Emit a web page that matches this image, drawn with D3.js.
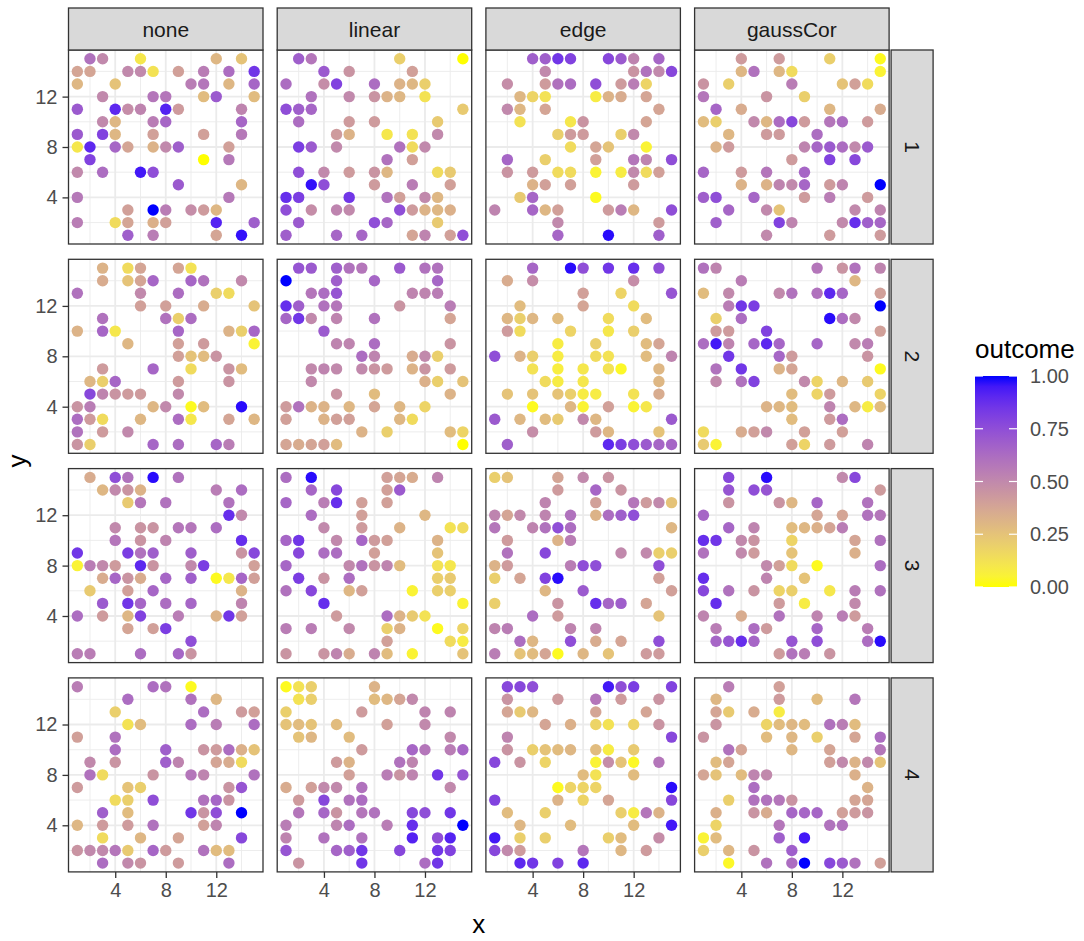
<!DOCTYPE html>
<html>
<head>
<meta charset="utf-8">
<script src="https://cdn.jsdelivr.net/npm/d3@7"></script>
<style>
  body { margin: 0; background: #fff; }
  text { font-family: "Liberation Sans", Arial, Helvetica, sans-serif; }
</style>
</head>
<body>
<svg id="chart" width="1084" height="941"></svg>
<script>
'use strict';

// facet categories
var methods = ['none', 'linear', 'edge', 'gaussCor'];
var reps = ['1', '2', '3', '4'];
var xTicks = [4, 8, 12];
var yTicks = [4, 8, 12];
var legendTicks = [0, 0.25, 0.5, 0.75, 1];

// points per panel: [x, y, outcome]
var none1 = [[2,15,.6],[3,15,.5],[6,15,.1],[12,15,.3],[14,15,.25],
  [1,14,.38],[2,14,.38],[5,14,.5],[6,14,.5],[7,14,.12],[9,14,.4],[11,14,.55],[13,14,.62],[15,14,.85],
  [1,13,.3],[4,13,.25],[10,13,.55],[11,13,.58],[13,13,.3],[15,13,.65],
  [3,12,.5],[7,12,.58],[8,12,.58],[11,12,.28],[12,12,.7],[15,12,.28],
  [1,11,.7],[4,11,.9],[5,11,.48],[6,11,.52],[8,11,.92],[9,11,.42],[14,11,.52],
  [3,10,.5],[4,10,.3],[7,10,.55],[8,10,.65],[14,10,.65],
  [1,9,.7],[3,9,.8],[4,9,.3],[7,9,.4],[11,9,.4],[14,9,.57],
  [1,8,.1],[2,8,.9],[4,8,.65],[5,8,.38],[7,8,.32],[8,8,.5],[9,8,.68],[13,8,.4],
  [2,7,.8],[11,7,0],[13,7,.57],
  [1,6,.5],[3,6,.62],[6,6,.95],[7,6,.75],
  [9,5,.7],[14,5,.3],
  [1,4,.57],[13,4,.57],
  [5,3,.4],[7,3,1],[8,3,.55],[10,3,.48],[11,3,.42],[12,3,.3],
  [1,2,.55],[4,2,.15],[5,2,.38],[7,2,.33],[8,2,.4],[12,2,.92],[15,2,.68],
  [5,1,.68],[7,1,.55],[12,1,.38],[14,1,.97]];

var linear1 = [[2,15,.68],[3,15,.58],[10,15,.2],[15,15,0],
  [4,14,.7],[6,14,.45],[11,14,.4],
  [1,13,.62],[4,13,.48],[5,13,.8],[8,13,.62],[10,13,.32],[11,13,.3],[12,13,.2],
  [3,12,.6],[6,12,.5],[8,12,.45],[9,12,.32],[10,12,.3],[12,12,.12],
  [1,11,.75],[2,11,.68],[3,11,.65],[15,11,.22],
  [2,10,.62],[6,10,.42],[8,10,.42],[13,10,.22],
  [5,9,.42],[6,9,.32],[9,9,.1],[11,9,.12],[13,9,.5],
  [2,8,.82],[3,8,.7],[5,8,.5],[10,8,.6],[11,8,.15],[12,8,.5],
  [9,7,.6],[11,7,.4],
  [2,6,.75],[4,6,.5],[6,6,.42],[8,6,.45],[9,6,.3],[13,6,.15],[14,6,.22],
  [3,5,.97],[4,5,.75],[8,5,.42],[11,5,.55],[14,5,.4],
  [1,4,.88],[2,4,.82],[6,4,.85],[9,4,.6],[10,4,.4],[12,4,.5],[13,4,.3],
  [1,3,.75],[3,3,.48],[5,3,.52],[6,3,.5],[10,3,.75],[11,3,.42],[12,3,.32],[13,3,.3],[14,3,.33],
  [2,2,.7],[8,2,.75],[9,2,.65],[13,2,.22],
  [1,1,.68],[5,1,.65],[7,1,.65],[11,1,.38],[12,1,.52],[14,1,.4],[15,1,.75]];

var edge1 = [[4,15,.68],[5,15,.68],[6,15,.85],[7,15,.8],[10,15,.78],[11,15,.7],[12,15,.52],[14,15,.65],
  [5,14,.5],[12,14,.45],[13,14,.6],[14,14,.5],[15,14,.78],
  [2,13,.48],[5,13,.42],[6,13,.6],[7,13,.62],[9,13,.75],[11,13,.42],[12,13,.55],[13,13,.18],
  [3,12,.3],[4,12,.18],[5,12,.12],[9,12,.08],[10,12,.32],[11,12,.35],[13,12,.38],
  [2,11,.5],[3,11,.3],[5,11,.38],[14,11,.38],
  [3,10,.12],[7,10,.1],[8,10,.45],[13,10,.38],
  [6,9,.2],[7,9,.42],[8,9,.42],[11,9,.2],[12,9,.5],
  [7,8,.15],[9,8,.38],[10,8,.25],[13,8,.05],
  [2,7,.65],[5,7,.2],[9,7,.4],[12,7,.58],[13,7,.52],[15,7,.75],
  [2,6,.45],[4,6,.42],[6,6,.15],[7,6,.15],[9,6,.05],[11,6,.08],[12,6,.5],[13,6,.15],[14,6,.4],
  [4,5,.32],[5,5,.4],[7,5,.4],[12,5,.42],
  [3,4,.22],[4,4,.65],[9,4,.02],
  [1,3,.52],[4,3,.65],[5,3,.3],[6,3,.4],[10,3,.42],[11,3,.55],[12,3,.3],[15,3,.75],
  [6,2,.5],[14,2,.42],
  [6,1,.65],[10,1,.98],[14,1,.68]];

var gaussCor1 = [[4,15,.42],[7,15,.42],[11,15,.2],[15,15,.02],
  [4,14,.3],[5,14,.6],[7,14,.3],[8,14,.15],[15,14,.05],
  [1,13,.45],[3,13,.2],[8,13,.55],[12,13,.25],[13,13,.4],[14,13,.15],
  [1,12,.58],[6,12,.45],[9,12,.2],
  [2,11,.65],[4,11,.35],[11,11,.3],[15,11,.35],
  [1,10,.28],[2,10,.2],[5,10,.5],[6,10,.3],[7,10,.62],[8,10,.78],[9,10,.42],[11,10,.58],[12,10,.62],[14,10,.42],
  [3,9,.3],[6,9,.42],[7,9,.42],[10,9,.62],
  [2,8,.32],[3,8,.42],[9,8,.52],[10,8,.65],[11,8,.7],[12,8,.62],[13,8,.5],[14,8,.7],
  [8,7,.42],[11,7,.8],[13,7,.78],
  [1,6,.65],[4,6,.42],[6,6,.58],[9,6,.65],
  [4,5,.32],[6,5,.32],[7,5,.52],[8,5,.5],[9,5,.65],[11,5,.42],[12,5,.52],[15,5,1],
  [1,4,.68],[2,4,.75],[5,4,.65],[9,4,.42],[11,4,.55],[14,4,.42],
  [3,3,.65],[6,3,.5],[7,3,.25],[13,3,.5],[15,3,.52],
  [2,2,.68],[7,2,.8],[8,2,.52],[12,2,.5],[13,2,.88],[14,2,.68],[15,2,.65],
  [6,1,.5],[11,1,.42],[15,1,.42]];

var none2 = [[3,15,.32],[5,15,.15],[6,15,.38],[9,15,.38],[10,15,.12],
  [3,14,.35],[5,14,.25],[6,14,.38],[7,14,.65],[10,14,.65],[11,14,.6],[14,14,.5],
  [1,13,.6],[6,13,.5],[9,13,.62],[12,13,.2],[13,13,.15],
  [6,12,.4],[8,12,.4],[11,12,.35],[15,12,.25],
  [3,11,.6],[8,11,.6],[9,11,.2],[10,11,.62],
  [1,10,.32],[3,10,.65],[4,10,.1],[9,10,.65],[13,10,.32],[14,10,.2],[15,10,.65],
  [5,9,.3],[9,9,.4],[11,9,.42],[15,9,.05],
  [9,8,.4],[10,8,.25],[11,8,.28],[12,8,.45],
  [3,7,.42],[7,7,.65],[10,7,.15],[13,7,.45],[14,7,.28],
  [2,6,.3],[3,6,.2],[4,6,.65],[9,6,.42],[13,6,.45],
  [2,5,.78],[3,5,.52],[4,5,.45],[5,5,.42],[6,5,.42],[9,5,.5],
  [1,4,.45],[2,4,.55],[7,4,.3],[8,4,.5],[10,4,.02],[11,4,.28],[14,4,.98],
  [1,3,.62],[2,3,.42],[3,3,.15],[6,3,.3],[9,3,.62],[10,3,.1],[13,3,.38],[15,3,.3],
  [1,2,.6],[3,2,.42],[5,2,.5],
  [1,1,.45],[2,1,.2],[7,1,.65],[9,1,.62],[12,1,.65],[13,1,.55]];

var linear2 = [[2,15,.72],[3,15,.7],[5,15,.68],[6,15,.6],[7,15,.58],[10,15,.7],[12,15,.6],[13,15,.6],
  [1,14,1],[5,14,.68],[8,14,.65],[13,14,.65],
  [3,13,.58],[4,13,.62],[5,13,.72],[11,13,.52],[12,13,.52],[13,13,.55],
  [1,12,.88],[2,12,.68],[4,12,.6],[5,12,.58],[10,12,.45],[14,12,.55],
  [1,11,.65],[2,11,.85],[3,11,.5],[5,11,.52],[8,11,.6],[14,11,.38],
  [4,10,.7],
  [5,9,.52],[6,9,.52],[8,9,.62],[14,9,.45],
  [7,8,.62],[8,8,.52],[11,8,.35],[12,8,.5],[13,8,.2],
  [3,7,.5],[4,7,.52],[5,7,.5],[7,7,.5],[8,7,.45],[9,7,.42],[11,7,.32],[12,7,.45],[14,7,.42],
  [3,6,.5],[12,6,.33],[13,6,.2],[15,6,.25],
  [5,5,.45],[8,5,.28],[14,5,.32],
  [1,4,.42],[2,4,.6],[3,4,.32],[4,4,.32],[6,4,.3],[8,4,.38],[10,4,.3],[12,4,.18],
  [1,3,.4],[4,3,.32],[5,3,.4],[6,3,.4],[10,3,.3],[11,3,.15],
  [7,2,.32],[9,2,.2],[14,2,.28],[15,2,.18],
  [1,1,.38],[2,1,.35],[3,1,.38],[4,1,.4],[5,1,.28],[15,1,0]];

var edge2 = [[4,15,.65],[7,15,.98],[8,15,.75],[10,15,.85],[12,15,.88],[14,15,.75],
  [2,14,.35],[4,14,.48],[12,14,.48],
  [8,13,.4],[11,13,.18],[15,13,.72],
  [3,12,.28],[8,12,.38],[12,12,.15],
  [2,11,.3],[3,11,.2],[4,11,.3],[6,11,.28],[10,11,.15],[13,11,.28],
  [2,10,.42],[3,10,.15],[7,10,.18],[10,10,.1],[12,10,.2],
  [6,9,.08],[9,9,.2],[13,9,.28],[14,9,.38],
  [1,8,.75],[3,8,.32],[4,8,.2],[6,8,.08],[9,8,.15],[10,8,.12],[13,8,.28],[15,8,.52],
  [4,7,.12],[6,7,.07],[8,7,.1],[10,7,.12],[11,7,.03],[14,7,.3],
  [5,6,.15],[6,6,.08],[8,6,.1],[14,6,.3],
  [2,5,.25],[4,5,.25],[6,5,.25],[7,5,.2],[8,5,.08],[9,5,.08],[12,5,.12],[14,5,.35],
  [4,4,.02],[7,4,.3],[8,4,.05],[10,4,.4],[12,4,.05],[13,4,.1],
  [1,3,.7],[3,3,.3],[5,3,.28],[6,3,.22],[8,3,.5],[9,3,.3],[15,3,.7],
  [4,2,.48],[9,2,.42],[10,2,.3],[14,2,.25],
  [2,1,.68],[10,1,.9],[11,1,.82],[12,1,.75],[13,1,.7],[14,1,.65],[15,1,.65]];

var gaussCor2 = [[1,15,.6],[2,15,.52],[10,15,.58],[12,15,.45],[13,15,.6],[15,15,.52],
  [4,14,.55],[13,14,.3],
  [1,13,.28],[3,13,.5],[7,13,.5],[8,13,.6],[10,13,.6],[11,13,.9],[12,13,.65],[15,13,.4],
  [3,12,.55],[4,12,.85],[5,12,.82],[15,12,1],
  [2,11,.2],[4,11,.62],[11,11,.98],[12,11,.62],[13,11,.5],
  [2,10,.42],[3,10,.42],[6,10,.8],[15,10,.4],
  [1,9,.62],[2,9,.95],[3,9,.52],[5,9,.65],[6,9,.9],[7,9,.65],[10,9,.65],[13,9,.5],[14,9,.55],
  [3,8,.85],[7,8,.65],[8,8,.42],[14,8,.45],
  [2,7,.6],[4,7,.85],[7,7,.32],[8,7,.38],[15,7,.02],
  [2,6,.5],[4,6,.6],[5,6,.8],[9,6,.5],[10,6,.18],[12,6,.3],[14,6,.22],
  [8,5,.28],[10,5,.18],[11,5,.42],[15,5,.18],
  [6,4,.32],[7,4,.3],[8,4,.28],[11,4,.52],[13,4,.3],[14,4,.08],[15,4,.28],
  [8,3,.28],[11,3,.42],[12,3,.62],
  [1,2,.15],[4,2,.35],[5,2,.4],[6,2,.5],[9,2,.4],[12,2,.4],
  [1,1,.22],[2,1,.05],[8,1,.4],[9,1,.18],[11,1,.42],[14,1,.52]];

var none3 = [[2,15,.35],[4,15,.75],[5,15,.6],[7,15,.98],[9,15,.6],
  [3,14,.3],[4,14,.5],[5,14,.45],[6,14,.32],[12,14,.55],[14,14,.62],
  [5,13,.22],[6,13,.58],[8,13,.6],[13,13,.6],
  [13,12,.88],[14,12,.5],
  [4,11,.5],[6,11,.45],[7,11,.45],[9,11,.58],[10,11,.58],[12,11,.62],
  [4,10,.58],[6,10,.45],[8,10,.52],[14,10,.88],
  [1,9,.85],[5,9,.82],[6,9,.6],[7,9,.68],[10,9,.68],[14,9,.45],[15,9,.78],
  [1,8,.05],[2,8,.55],[3,8,.5],[4,8,.42],[6,8,.9],[7,8,.45],[10,8,.5],[11,8,.82],[15,8,.4],
  [3,7,.35],[4,7,.65],[5,7,.45],[6,7,.35],[8,7,.65],[10,7,.68],[12,7,.02],[13,7,.1],[14,7,.65],[15,7,.4],
  [2,6,.22],[5,6,.4],[7,6,.65],[14,6,.32],
  [3,5,.7],[5,5,.85],[6,5,.65],[8,5,.62],[10,5,.65],[14,5,.52],
  [1,4,.62],[3,4,.42],[5,4,.3],[6,4,.8],[9,4,.55],[12,4,.32],[13,4,.85],[14,4,.4],
  [5,3,.38],[7,3,.4],[8,3,.82],
  [10,2,.75],
  [1,1,.55],[2,1,.55],[6,1,.62],[9,1,.65],[10,1,.45]];

var linear3 = [[1,15,.62],[3,15,.98],[9,15,.4],[10,15,.38],[11,15,.35],[13,15,.52],
  [3,14,.65],[5,14,.78],[9,14,.4],[10,14,.7],
  [1,13,.65],[4,13,.55],[5,13,.88],[7,13,.4],[9,13,.4],
  [3,12,.62],[7,12,.4],[12,12,.3],
  [4,11,.5],[7,11,.42],[10,11,.32],[14,11,.12],[15,11,.15],
  [1,10,.65],[2,10,.85],[5,10,.5],[7,10,.65],[8,10,.42],[9,10,.4],[13,10,.32],
  [2,9,.78],[4,9,.62],[5,9,.62],[8,9,.4],[13,9,.25],
  [1,8,.65],[6,8,.5],[7,8,.6],[8,8,.45],[9,8,.52],[10,8,.28],[13,8,.12],[14,8,.1],
  [2,7,.82],[4,7,.45],[6,7,.62],[13,7,.2],[14,7,.22],
  [1,6,.6],[3,6,.78],[6,6,.3],[7,6,.4],[11,6,.05],[13,6,.2],[14,6,.2],
  [4,5,.88],[15,5,.05],
  [5,4,.42],[9,4,.62],[10,4,.32],[11,4,.22],[12,4,.12],
  [1,3,.55],[3,3,.55],[6,3,.5],[9,3,.2],[10,3,.32],[13,3,.02],[15,3,.18],
  [9,2,.4],[14,2,.15],[15,2,.08],
  [1,1,.45],[4,1,.45],[5,1,.52],[6,1,.35],[8,1,.52],[9,1,.28],[11,1,.05],[15,1,.25]];

var edge3 = [[1,15,.2],[2,15,.25],[6,15,.38],[8,15,.5],[10,15,.45],
  [6,14,.42],[9,14,.65],[11,14,.45],
  [5,13,.52],[9,13,.4],[12,13,.58],[13,13,.42],[14,13,.5],[15,13,.25],
  [1,12,.52],[2,12,.38],[3,12,.5],[5,12,.52],[7,12,.6],[9,12,.32],[10,12,.62],[11,12,.68],[12,12,.75],
  [1,11,.58],[4,11,.52],[5,11,.6],[6,11,.75],[7,11,.62],[15,11,.3],
  [2,10,.42],[6,10,.32],[7,10,.55],
  [2,9,.6],[5,9,.78],[11,9,.5],[13,9,.5],[14,9,.2],[15,9,.2],
  [1,8,.32],[2,8,.42],[7,8,.55],[8,8,.75],[9,8,.75],[14,8,.75],
  [1,7,.2],[3,7,.38],[5,7,.8],[6,7,.98],[14,7,.4],
  [5,6,.3],[8,6,.7],[15,6,.4],
  [1,5,.2],[6,5,.45],[9,5,.88],[10,5,.65],[11,5,.68],[13,5,.38],
  [4,4,.62],[6,4,.42],[14,4,.25],
  [1,3,.52],[2,3,.55],[7,3,.52],[9,3,.52],
  [3,2,.62],[4,2,.3],[7,2,.75],[9,2,.35],[11,2,.38],[14,2,.75],
  [1,1,.55],[3,1,.25],[4,1,.28],[5,1,.38],[6,1,.02],[8,1,.3],[10,1,.25],[13,1,.42],[14,1,.42]];

var gaussCor3 = [[3,15,.78],[6,15,.98],[12,15,.5],[13,15,.78],
  [3,14,.72],[5,14,.75],[6,14,.72],[15,14,.42],
  [3,13,.45],[7,13,.45],[8,13,.3],[10,13,.65],[14,13,.6],
  [1,12,.65],[10,12,.38],[12,12,.38],[14,12,.6],[15,12,.58],
  [3,11,.65],[5,11,.52],[8,11,.28],[9,11,.3],[10,11,.33],[11,11,.38],[12,11,.55],
  [1,10,.88],[2,10,.85],[4,10,.5],[5,10,.45],[8,10,.18],[13,10,.38],[15,10,.6],
  [1,9,.6],[4,9,.5],[5,9,.42],[8,9,.25],[13,9,.33],
  [6,8,.5],[7,8,.4],[8,8,.15],[10,8,.02],[15,8,.62],
  [1,7,.88],[6,7,.52],[9,7,.25],
  [1,6,.78],[3,6,.6],[5,6,.45],[7,6,.18],[8,6,.2],[11,6,.1],[13,6,.55],[15,6,.6],
  [2,5,.88],[7,5,.42],[9,5,.08],[13,5,.5],
  [1,4,.52],[4,4,.35],[7,4,.6],[10,4,.52],[12,4,.55],[13,4,.42],
  [2,3,.55],[5,3,.62],[6,3,.42],[10,3,.65],[14,3,.55],
  [2,2,.65],[3,2,.72],[4,2,.88],[5,2,.65],[8,2,.72],[10,2,.75],[14,2,.62],[15,2,.98],
  [7,1,.42],[8,1,.6],[9,1,.55],[11,1,.45]];

var none4 = [[1,15,.55],[7,15,.62],[8,15,.6],[10,15,.02],
  [5,14,.62],[10,14,.6],[12,14,.3],
  [4,13,.2],[11,13,.62],[14,13,.42],[15,13,.4],
  [5,12,.12],[6,12,.28],[10,12,.62],[12,12,.55],[15,12,.62],
  [1,11,.4],[4,11,.6],
  [4,10,.62],[8,10,.68],[11,10,.45],[12,10,.42],[13,10,.62],[14,10,.33],[15,10,.25],
  [2,9,.5],[4,9,.45],[8,9,.68],[9,9,.52],[12,9,.38],[13,9,.35],[14,9,.15],
  [2,8,.6],[3,8,.15],[7,8,.45],[10,8,.58],[11,8,.52],[15,8,.6],
  [1,7,.42],[5,7,.25],[6,7,.2],[13,7,.45],[14,7,.72],
  [4,6,.15],[5,6,.2],[7,6,.75],[11,6,.6],[12,6,.65],[13,6,.45],
  [3,5,.68],[5,5,.28],[10,5,.85],[11,5,.45],[12,5,.75],[14,5,1],
  [1,4,.3],[3,4,.42],[5,4,.42],[7,4,.6],[11,4,.4],[12,4,.52],
  [3,3,.15],[6,3,.3],[9,3,.38],[14,3,.78],
  [1,2,.45],[2,2,.5],[3,2,.5],[4,2,.58],[5,2,.22],[7,2,.65],[8,2,.42],[11,2,.6],[12,2,.28],[13,2,.28],
  [3,1,.62],[5,1,.5],[6,1,.45],[9,1,.42],[13,1,.62]];

var linear4 = [[1,15,.02],[2,15,.12],[3,15,.2],[8,15,.32],
  [2,14,.12],[3,14,.2],[8,14,.28],[9,14,.3],[10,14,.38],[11,14,.5],
  [1,13,.2],[7,13,.42],[12,13,.52],[14,13,.52],
  [1,12,.25],[2,12,.28],[3,12,.25],[5,12,.28],[9,12,.4],[12,12,.5],
  [2,11,.25],[3,11,.3],[6,11,.28],[14,11,.5],
  [7,10,.42],[11,10,.65],[12,10,.58],[14,10,.55],[15,10,.65],
  [5,9,.42],[6,9,.32],[10,9,.6],[11,9,.52],
  [6,8,.4],[9,8,.55],[10,8,.45],[11,8,.52],[13,8,.85],[15,8,.72],
  [1,7,.35],[3,7,.4],[4,7,.5],[5,7,.5],[7,7,.6],[14,7,.5],
  [2,6,.42],[4,6,.78],[6,6,.6],[7,6,.62],
  [2,5,.58],[4,5,.65],[5,5,.45],[7,5,.58],[8,5,.6],[11,5,.78],[12,5,.75],[14,5,.85],
  [1,4,.55],[5,4,.52],[6,4,.62],[9,4,.55],[11,4,.88],[15,4,1],
  [1,3,.52],[4,3,.6],[7,3,.6],[11,3,.92],[13,3,.75],[14,3,.92],
  [1,2,.72],[5,2,.65],[6,2,.68],[7,2,.85],[10,2,.78],[13,2,.85],[14,2,.8],
  [2,1,.45],[7,1,.85],[12,1,.62],[13,1,.85]];

var edge4 = [[2,15,.78],[3,15,.78],[4,15,.75],[10,15,.95],[11,15,.75],[12,15,.82],[15,15,.8],
  [2,14,.45],[6,14,.42],[9,14,.58],[11,14,.42],[14,14,.45],
  [2,13,.38],[3,13,.22],[4,13,.3],[9,13,.38],[13,13,.38],
  [5,12,.38],[7,12,.33],[9,12,.18],[10,12,.12],[12,12,.18],[14,12,.45],
  [2,11,.52],[15,11,.78],
  [2,10,.45],[4,10,.2],[5,10,.25],[6,10,.28],[7,10,.3],[9,10,.28],[10,10,.08],[12,10,.22],
  [1,9,.78],[3,9,.45],[5,9,.18],[9,9,.05],[10,9,.48],[11,9,.25],[12,9,.03],[14,9,.58],
  [8,8,.28],[9,8,.12],[12,8,.28],
  [6,7,.02],[7,7,.18],[8,7,.18],[9,7,.18],[15,7,.98],
  [1,6,.8],[6,6,.32],[8,6,.18],[10,6,.38],[15,6,.78],
  [2,5,.28],[5,5,.2],[11,5,.2],[12,5,.08],[13,5,.58],[14,5,.32],
  [3,4,.3],[7,4,.28],[12,4,.28],[15,4,.95],
  [1,3,.95],[3,3,.2],[5,3,.2],[10,3,.2],[11,3,.28],[14,3,.48],
  [1,2,.78],[2,2,.5],[3,2,.42],[8,2,.58],[11,2,.3],[13,2,.42],
  [3,1,.9],[4,1,.85],[6,1,.8],[8,1,.9]];

var gaussCor4 = [[3,15,.55],[7,15,.4],
  [2,14,.3],[7,14,.42],[10,14,.28],[13,14,.58],
  [2,13,.38],[3,13,.22],[5,13,.35],[7,13,.08],
  [2,12,.45],[6,12,.18],[7,12,.28],[8,12,.3],[9,12,.28],[11,12,.6],[12,12,.55],[13,12,.28],
  [1,11,.45],[6,11,.28],[8,11,.3],[10,11,.2],[13,11,.38],[15,11,.62],
  [3,10,.6],[4,10,.38],[8,10,.3],[11,10,.38],[15,10,.58],
  [2,9,.28],[3,9,.38],[11,9,.4],[12,9,.5],[13,9,.32],[14,9,.5],[15,9,.25],
  [1,8,.38],[2,8,.25],[4,8,.28],[5,8,.52],[6,8,.5],[13,8,.33],
  [5,7,.62],[14,7,.32],
  [3,6,.2],[5,6,.6],[6,6,.6],[7,6,.58],[8,6,.45],[13,6,.38],[14,6,.38],
  [2,5,.33],[5,5,.45],[6,5,.35],[8,5,.65],[9,5,.65],[10,5,.65],[12,5,.4],[13,5,.42],[14,5,.45],
  [2,4,.18],[7,4,.58],[11,4,.6],[12,4,.6],
  [1,3,.05],[2,3,.28],[7,3,.68],[9,3,.95],
  [1,2,.2],[3,2,.3],[5,2,.45],[8,2,.68],
  [3,1,.03],[6,1,.6],[8,1,.62],[9,1,1],[11,1,.78],[12,1,.7],[13,1,.6],[15,1,.4]];

var panelData = {
  none: [none1, none2, none3, none4],
  linear: [linear1, linear2, linear3, linear4],
  edge: [edge1, edge2, edge3, edge4],
  gaussCor: [gaussCor1, gaussCor2, gaussCor3, gaussCor4]
};

// layout
var left0 = 68.5, colStep = 208.7, pw = 194.5;
var top0 = 50, rowStep = 209.3, ph = 194;
var stripH = 42, stripW = 42;
var dark = '#333333', gridCol = '#EBEBEB', stripFill = '#D9D9D9', tickText = '#4D4D4D';

var x = d3.scaleLinear().domain([0.3, 15.7]).range([0, pw]);
var y = d3.scaleLinear().domain([0.3, 15.7]).range([ph, 0]);
var colour = d3.scaleLinear().domain([0, 1]).range(['yellow', 'blue']).interpolate(d3.interpolateLab);

var svg = d3.select('#chart');

methods.forEach(function(m, ci) {
  reps.forEach(function(r, ri) {
    var g = svg.append('g')
      .attr('transform', 'translate(' + (left0 + ci * colStep) + ',' + (top0 + ri * rowStep) + ')');

    // minor and major grid
    var minor = [2, 6, 10, 14];
    g.selectAll('line.minx').data(minor).enter().append('line')
      .attr('x1', function(d) { return x(d); }).attr('x2', function(d) { return x(d); })
      .attr('y1', 0).attr('y2', ph)
      .attr('stroke', gridCol).attr('stroke-width', 0.9);
    g.selectAll('line.miny').data(minor).enter().append('line')
      .attr('y1', function(d) { return y(d); }).attr('y2', function(d) { return y(d); })
      .attr('x1', 0).attr('x2', pw)
      .attr('stroke', gridCol).attr('stroke-width', 0.9);
    g.selectAll('line.majx').data(xTicks).enter().append('line')
      .attr('x1', function(d) { return x(d); }).attr('x2', function(d) { return x(d); })
      .attr('y1', 0).attr('y2', ph)
      .attr('stroke', gridCol).attr('stroke-width', 1.8);
    g.selectAll('line.majy').data(yTicks).enter().append('line')
      .attr('y1', function(d) { return y(d); }).attr('y2', function(d) { return y(d); })
      .attr('x1', 0).attr('x2', pw)
      .attr('stroke', gridCol).attr('stroke-width', 1.8);

    // points
    g.selectAll('circle').data(panelData[m][ri]).enter().append('circle')
      .attr('cx', function(d) { return x(d[0]); })
      .attr('cy', function(d) { return y(d[1]); })
      .attr('r', 5.7)
      .attr('fill', function(d) { return colour(d[2]); });

    // panel border
    g.append('rect').attr('width', pw).attr('height', ph)
      .attr('fill', 'none').attr('stroke', dark).attr('stroke-width', 1.3);

    // top strips
    if (ri === 0) {
      g.append('rect').attr('x', 0).attr('y', -stripH).attr('width', pw).attr('height', stripH)
        .attr('fill', stripFill).attr('stroke', dark).attr('stroke-width', 1.3);
      g.append('text').attr('x', pw / 2).attr('y', -stripH / 2)
        .attr('text-anchor', 'middle').attr('dominant-baseline', 'central')
        .attr('font-size', 21).attr('fill', '#1A1A1A').text(m);
    }

    // right strips
    if (ci === methods.length - 1) {
      g.append('rect').attr('x', pw + 2).attr('y', 0).attr('width', stripW).attr('height', ph)
        .attr('fill', stripFill).attr('stroke', dark).attr('stroke-width', 1.3);
      g.append('text')
        .attr('transform', 'translate(' + (pw + 2 + stripW / 2) + ',' + (ph / 2) + ') rotate(90)')
        .attr('text-anchor', 'middle').attr('dominant-baseline', 'central')
        .attr('font-size', 21).attr('fill', '#1A1A1A').text(r);
    }

    // y axis on left column
    if (ci === 0) {
      var ya = g.append('g').call(d3.axisLeft(y).tickValues(yTicks).tickSize(6).tickPadding(5));
      ya.select('.domain').remove();
      ya.selectAll('.tick line').attr('stroke', dark).attr('stroke-width', 1.3);
      ya.selectAll('.tick text').attr('font-size', 20).attr('fill', tickText)
        .attr('font-family', '"Liberation Sans", Arial, sans-serif');
    }

    // x axis on bottom row
    if (ri === reps.length - 1) {
      var xa = g.append('g').attr('transform', 'translate(0,' + ph + ')')
        .call(d3.axisBottom(x).tickValues(xTicks).tickSize(6).tickPadding(5));
      xa.select('.domain').remove();
      xa.selectAll('.tick line').attr('stroke', dark).attr('stroke-width', 1.3);
      xa.selectAll('.tick text').attr('font-size', 20).attr('fill', tickText)
        .attr('font-family', '"Liberation Sans", Arial, sans-serif');
    }
  });
});

// axis titles
var plotMidX = left0 + (3 * colStep + pw) / 2;
var plotMidY = top0 + (3 * rowStep + ph) / 2;
svg.append('text').attr('x', plotMidX).attr('y', 933)
  .attr('text-anchor', 'middle').attr('font-size', 26).attr('fill', '#000').text('x');
svg.append('text').attr('transform', 'translate(17,' + plotMidY + ') rotate(-90)')
  .attr('text-anchor', 'middle').attr('dominant-baseline', 'central')
  .attr('font-size', 26).attr('fill', '#000').text('y');

// colour legend
var barX = 975, barW = 42, barTop = 376, barH = 211;
var defs = svg.append('defs');
var grad = defs.append('linearGradient').attr('id', 'outcomeGrad')
  .attr('x1', 0).attr('y1', 1).attr('x2', 0).attr('y2', 0);
grad.selectAll('stop').data(d3.range(0, 1.0001, 0.05)).enter().append('stop')
  .attr('offset', function(d) { return d; })
  .attr('stop-color', function(d) { return colour(d); });

svg.append('text').attr('x', barX).attr('y', 358)
  .attr('font-size', 26).attr('fill', '#000').text('outcome');
svg.append('rect').attr('x', barX).attr('y', barTop).attr('width', barW).attr('height', barH)
  .attr('fill', 'url(#outcomeGrad)');

var ly = d3.scaleLinear().domain([0, 1]).range([barTop + barH, barTop]);
svg.selectAll('line.ltl').data(legendTicks).enter().append('line')
  .attr('x1', barX).attr('x2', barX + 8)
  .attr('y1', function(d) { return ly(d); }).attr('y2', function(d) { return ly(d); })
  .attr('stroke', '#fff').attr('stroke-width', 1.2);
svg.selectAll('line.ltr').data(legendTicks).enter().append('line')
  .attr('x1', barX + barW - 8).attr('x2', barX + barW)
  .attr('y1', function(d) { return ly(d); }).attr('y2', function(d) { return ly(d); })
  .attr('stroke', '#fff').attr('stroke-width', 1.2);
svg.selectAll('text.lt').data(legendTicks).enter().append('text')
  .attr('x', 1030).attr('y', function(d) { return ly(d); })
  .attr('dominant-baseline', 'central')
  .attr('font-size', 20).attr('fill', tickText)
  .text(function(d) { return d3.format('.2f')(d); });
</script>
</body>
</html>
